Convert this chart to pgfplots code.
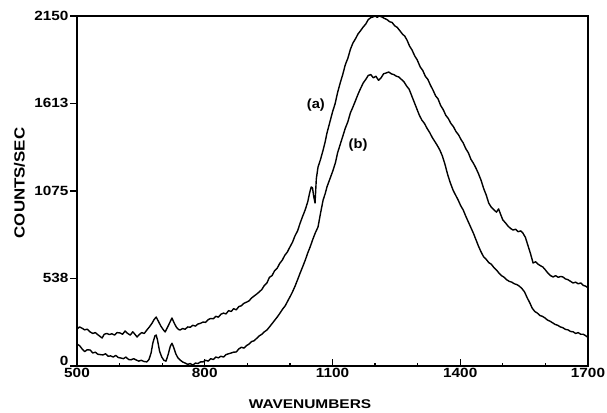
\documentclass[border=0pt]{standalone}
\usepackage{fontspec}
\setmainfont{Liberation Sans}
\usepackage{pgfplots}
\pgfplotsset{compat=1.18}
\begin{document}
\begin{tikzpicture}
\useasboundingbox (-57.75pt,-35.25pt) rectangle (397.5pt,274.5pt);
\begin{axis}[
  at={(0,0)}, anchor=origin,
  scale only axis, width=383.25pt, height=262.5pt,
  xmin=500, xmax=1700, ymin=0, ymax=2150,
  xtick={500,800,1100,1400,1700},
  ytick={538,1075,1613,2150},
  extra y ticks={0},
  extra y tick style={yticklabel style={yshift=4pt}},
  minor xtick={600,700,900,1000,1200,1300,1500,1600},
  xtick pos=bottom, ytick pos=left,
  xtick align=inside, ytick align=outside,
  major tick length=5pt, minor tick length=2.5pt,
  axis line style={line width=1.1pt},
  every tick/.style={black, line width=0.9pt},
  /pgf/number format/assume math mode=true,
  /pgf/number format/1000 sep={},
  tick label style={font=\bfseries\fontsize{10}{12}\selectfont, xscale=1.15},
  xticklabel style={inner sep=1.5pt},
  yticklabel style={inner sep=1pt},
  xlabel={\scalebox{1.22}[1]{WAVENUMBERS}}, ylabel={\scalebox{1.15}[1]{COUNTS/SEC}},
  every axis x label/.style={at={(axis description cs:0.456,-0.109)}, anchor=center, font=\bfseries\fontsize{9.5}{11}\selectfont},
  every axis y label/.style={at={(axis description cs:-0.1125,0.523)}, anchor=center, rotate=90, font=\bfseries\fontsize{11}{13}\selectfont},
  clip=false,
]
% curve (a)
\addplot[black, line width=1.05pt, sharp plot, line join=round] coordinates {
(500,227)(506,240)(512,232)(518,222)(524,226)(531,209)(537,200)(543,205)(549,192)(555,180)(559,172)(564,195)(570,200)(576,193)(582,198)(588,190)(594,205)(601,203)(607,195)(613,215)(619,200)(625,190)(631,210)(636,195)(641,178)(647,195)(652,205)(658,200)(664,221)(670,240)(676,262)(681,285)(686,301)(691,275)(697,245)(702,225)(707,209)(712,235)(717,262)(723,295)(728,265)(733,240)(738,225)(742,221)(748,230)(754,226)(760,240)(766,238)(772,250)(778,245)(784,258)(790,262)(796,270)(802,268)(808,285)(814,292)(820,290)(826,305)(832,300)(838,318)(844,325)(850,320)(856,340)(862,335)(868,352)(874,345)(880,365)(886,370)(892,385)(898,392)(904,400)(910,418)(916,430)(922,442)(928,455)(934,470)(940,495)(946,510)(952,545)(958,555)(964,585)(970,600)(976,630)(982,650)(988,680)(994,700)(1000,731)(1006,760)(1012,800)(1018,830)(1024,878)(1030,920)(1036,960)(1042,1010)(1046,1060)(1050,1100)(1053,1095)(1056,1040)(1059,1001)(1062,1150)(1066,1222)(1072,1270)(1078,1327)(1083,1380)(1087,1431)(1093,1490)(1100,1560)(1106,1610)(1112,1680)(1118,1738)(1124,1790)(1130,1850)(1136,1890)(1142,1945)(1148,1984)(1154,2010)(1160,2040)(1166,2060)(1172,2082)(1178,2100)(1184,2128)(1190,2140)(1195,2144)(1200,2150)(1205,2142)(1210,2150)(1216,2144)(1222,2135)(1228,2128)(1234,2115)(1240,2110)(1246,2090)(1252,2080)(1258,2060)(1264,2040)(1270,2025)(1275,2002)(1281,1965)(1287,1940)(1293,1905)(1299,1880)(1306,1837)(1312,1815)(1318,1780)(1324,1760)(1330,1725)(1336,1695)(1342,1660)(1348,1640)(1354,1600)(1360,1575)(1366,1540)(1372,1520)(1378,1490)(1384,1470)(1390,1440)(1396,1420)(1402,1390)(1407,1370)(1413,1335)(1419,1310)(1425,1270)(1431,1245)(1437,1215)(1443,1180)(1449,1140)(1455,1090)(1461,1050)(1467,1000)(1473,975)(1479,960)(1485,945)(1490,965)(1495,930)(1500,897)(1506,880)(1512,860)(1518,845)(1524,835)(1530,840)(1536,825)(1542,830)(1547,817)(1553,790)(1559,740)(1565,690)(1571,633)(1577,640)(1583,625)(1589,615)(1594,608)(1600,590)(1606,570)(1612,555)(1618,547)(1624,555)(1630,545)(1636,550)(1641,547)(1647,535)(1653,530)(1659,520)(1665,510)(1671,515)(1677,505)(1683,510)(1689,495)(1695,490)(1700,480)
};
% curve (b)
\addplot[black, line width=1.05pt, sharp plot, line join=round] coordinates {
(500,135)(506,125)(512,105)(518,88)(524,100)(531,98)(537,80)(543,85)(549,72)(555,70)(561,68)(567,75)(573,60)(579,62)(585,55)(591,65)(597,52)(603,49)(609,45)(615,55)(621,40)(627,38)(633,45)(639,37)(645,30)(651,35)(657,28)(664,25)(669,40)(674,80)(678,140)(683,185)(686,190)(689,160)(694,90)(699,55)(704,35)(709,30)(714,70)(719,120)(723,140)(727,115)(732,75)(737,50)(742,37)(748,25)(754,18)(760,10)(766,15)(772,5)(778,18)(784,15)(790,25)(796,25)(802,35)(808,30)(814,45)(820,40)(826,55)(832,50)(838,60)(844,55)(850,70)(856,75)(862,80)(868,85)(874,86)(880,105)(886,115)(892,110)(898,125)(904,135)(910,150)(916,155)(922,170)(928,185)(934,195)(940,210)(946,221)(952,240)(958,260)(964,280)(970,300)(977,326)(983,350)(989,370)(995,400)(1000,424)(1006,455)(1012,490)(1018,530)(1024,571)(1030,610)(1036,650)(1042,695)(1048,735)(1054,780)(1060,820)(1066,854)(1072,940)(1078,1020)(1083,1060)(1087,1100)(1094,1150)(1101,1200)(1107,1250)(1112,1310)(1118,1360)(1124,1410)(1130,1460)(1136,1500)(1142,1555)(1148,1591)(1154,1630)(1160,1670)(1166,1705)(1172,1738)(1178,1760)(1184,1785)(1190,1790)(1196,1770)(1202,1780)(1208,1755)(1214,1770)(1220,1795)(1226,1800)(1232,1806)(1238,1795)(1244,1790)(1250,1780)(1256,1775)(1262,1760)(1268,1745)(1274,1720)(1280,1700)(1286,1660)(1292,1620)(1298,1580)(1304,1540)(1310,1510)(1316,1490)(1322,1460)(1328,1435)(1334,1405)(1340,1380)(1346,1355)(1352,1327)(1358,1290)(1364,1240)(1370,1180)(1376,1130)(1383,1081)(1389,1050)(1395,1020)(1401,985)(1407,958)(1413,920)(1419,885)(1425,850)(1431,815)(1437,775)(1443,735)(1449,700)(1455,670)(1461,655)(1467,635)(1473,625)(1479,605)(1485,590)(1491,570)(1497,555)(1503,545)(1509,530)(1515,520)(1521,515)(1527,505)(1533,500)(1539,490)(1545,475)(1551,455)(1557,420)(1563,390)(1569,355)(1575,335)(1581,325)(1587,310)(1593,305)(1599,295)(1605,282)(1611,275)(1617,265)(1623,255)(1629,250)(1635,240)(1641,235)(1647,225)(1653,222)(1659,212)(1665,210)(1671,200)(1677,205)(1683,195)(1689,195)(1695,185)(1700,175)
};
\node[font=\bfseries\fontsize{10}{12}\selectfont, xscale=1.1] at (axis cs:1061,1603) {(a)};
\node[font=\bfseries\fontsize{10}{12}\selectfont, xscale=1.1] at (axis cs:1160,1357) {(b)};
\end{axis}
\end{tikzpicture}
\end{document}
